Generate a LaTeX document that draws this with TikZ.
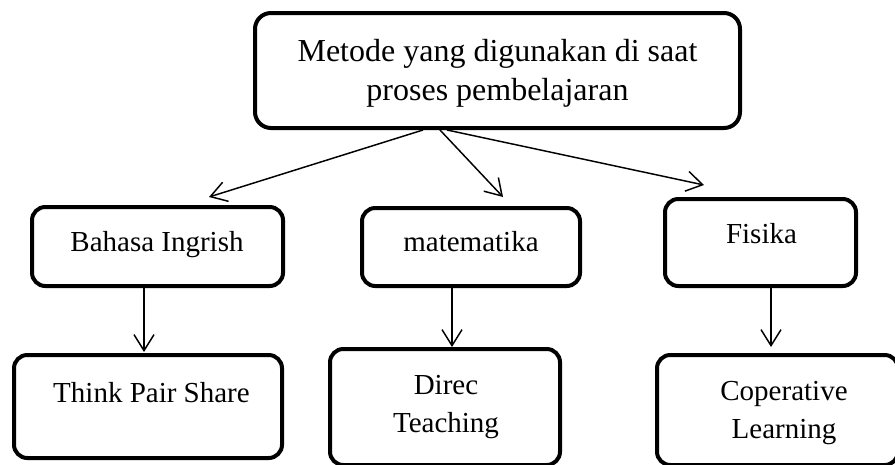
\documentclass[tikz,border=0pt]{standalone}
\usepackage{fontspec}
\setmainfont{Liberation Serif}
\usetikzlibrary{arrows.meta,calc}
\begin{document}
\begin{tikzpicture}[x=0.75pt,y=-0.75pt,
  box/.style={draw=black,line width=3pt,rounded corners=10pt,inner sep=0pt},
  arr/.style={line width=1.1pt,-{Straight Barb[length=12pt,width=15pt]}},
  lbl/.style={anchor=base,inner sep=0pt,align=center,font=\fontsize{21.75}{28.5}\selectfont},
  ttl/.style={anchor=base,inner sep=0pt,align=center,font=\fontsize{24}{29}\selectfont}]
\useasboundingbox (0,0) rectangle (895,464);

% boxes
\node[box,rounded corners=12pt,minimum width=363.75pt,minimum height=86.25pt] (top) at (497.5,70.5) {};
\node[box,minimum width=188.25pt,minimum height=59.25pt] (bahasa) at (157.5,246.5) {};
\node[box,minimum width=163.5pt,minimum height=58.5pt] (mat) at (471,247) {};
\node[box,minimum width=143.25pt,minimum height=65.25pt] (fis) at (760.5,242.5) {};
\node[box,minimum width=201pt,minimum height=77.25pt] (think) at (148,406.5) {};
\node[box,minimum width=172.5pt,minimum height=87pt] (direc) at (445,407) {};
\node[box,minimum width=180.75pt,minimum height=82.5pt] (coop) at (777.5,410) {};

% texts (base anchor = baseline of the last line)
\node[ttl] (topT) at (497.5,100) {Metode yang digunakan di saat\\proses pembelajaran};
\node[lbl] (bahasaT) at (157,251) {Bahasa Ingrish};
\node[lbl] (matT) at (471,251) {matematika};
\node[lbl] (fisT) at (761.5,243) {Fisika};
\node[lbl] (thinkT) at (151.5,402) {Think Pair Share};
\node[lbl] (direcT) at (446,432) {Direc\\Teaching};
\node[lbl] (coopT) at (784,438) {Coperative\\Learning};

% connectors from the title box
\draw[arr] ($(top.south)+(-74.5,0)$) -- ($(bahasa.north)+(51.5,-8)$);
\draw[arr] ($(top.south)+(-57.5,0)$) -- ($(mat.north)+(32,-9)$);
\draw[arr] ($(top.south)+(-50.5,0)$) -- ($(fis.north)+(-56.5,-12)$);

% vertical connectors
\coordinate (b1) at ($(bahasa.south)+(-13.5,0)$);
\draw[arr] (b1) -- ($(b1 |- think.north)+(0,-1)$);
\coordinate (b2) at ($(mat.south)+(-19,0)$);
\draw[arr] (b2) -- (b2 |- direc.north);
\coordinate (b3) at ($(fis.south)+(10.5,0)$);
\draw[arr] (b3) -- ($(b3 |- coop.north)+(0,-6)$);
\end{tikzpicture}
\end{document}
